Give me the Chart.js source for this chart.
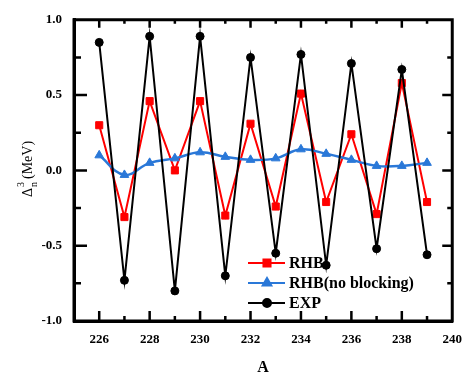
<!DOCTYPE html>
<html>
<head>
<meta charset="utf-8">
<script src="https://cdn.jsdelivr.net/npm/chart.js@4.4.1/dist/chart.umd.min.js"></script>
<style>
  html, body { margin: 0; padding: 0; background: #fff; }
  #wrap { width: 473px; height: 377px; }
</style>
</head>
<body>
<div id="wrap"><canvas id="gapChart" width="473" height="377"></canvas></div>
<script>
// mass number A
const massNumbers = [226, 227, 228, 229, 230, 231, 232, 233, 234, 235, 236, 237, 238, 239];
// three-point odd-even mass staggering, MeV
const rhbValues = [0.30, -0.31, 0.46, 0.00, 0.46, -0.30, 0.31, -0.24, 0.51, -0.21, 0.24, -0.29, 0.58, -0.21];
const rhbNoBlockingValues = [0.10, -0.03, 0.05, 0.08, 0.12, 0.09, 0.07, 0.08, 0.14, 0.11, 0.07, 0.03, 0.03, 0.05];
const expValues = [0.85, -0.73, 0.89, -0.80, 0.89, -0.70, 0.75, -0.55, 0.77, -0.63, 0.71, -0.52, 0.67, -0.56];
const xTickValues = [226, 228, 230, 232, 234, 236, 238, 240];
const yTickValues = [-1.0, -0.5, 0.0, 0.5, 1.0];

const serif = "'Liberation Serif', 'Times New Roman', serif";
const redColor = "#ff0000";
const blueColor = "#2a78d8";

function toPoints(values) {
    return values.map((v, i) => ({ x: massNumbers[i], y: v }));
}

// box round the plot with inward ticks, all four sides
function drawFrame(chart) {
    const ctx = chart.ctx;
    const area = chart.chartArea;
    const xs = chart.scales.x;
    const ys = chart.scales.y;
    const left = area.left, right = area.right, top = area.top, bottom = area.bottom;
    ctx.save();
    ctx.strokeStyle = "#000";
    ctx.lineWidth = 3;
    ctx.beginPath();
    ctx.rect(left, top, right - left, bottom - top);
    ctx.stroke();

    ctx.lineWidth = 2.5;
    ctx.beginPath();
    xTickValues.forEach((v, i) => {
        const px = xs.getPixelForValue(v);
        if (px < right - 2) {
            ctx.moveTo(px, bottom); ctx.lineTo(px, bottom - 10);
            ctx.moveTo(px, top); ctx.lineTo(px, top + 8);
        }
        if (i < xTickValues.length - 1) {
            const pm = xs.getPixelForValue((v + xTickValues[i + 1]) / 2);
            ctx.moveTo(pm, bottom); ctx.lineTo(pm, bottom - 5);
            ctx.moveTo(pm, top); ctx.lineTo(pm, top + 4);
        }
    });
    yTickValues.forEach((v, i) => {
        const py = ys.getPixelForValue(v);
        if (py > top + 2 && py < bottom - 2) {
            ctx.moveTo(left, py); ctx.lineTo(left + 13, py);
            ctx.moveTo(right, py); ctx.lineTo(right - 10, py);
        }
        if (i < yTickValues.length - 1) {
            const pm = ys.getPixelForValue((v + yTickValues[i + 1]) / 2);
            ctx.moveTo(left, pm); ctx.lineTo(left + 7, pm);
            ctx.moveTo(right, pm); ctx.lineTo(right - 5, pm);
        }
    });
    ctx.stroke();
    ctx.restore();
}

function drawLegend(chart) {
    const ctx = chart.ctx;
    ctx.save();
    chart.data.datasets.forEach((ds, i) => {
        const y = 263 + i * 20;
        ctx.strokeStyle = ds.borderColor;
        ctx.lineWidth = 2;
        ctx.beginPath();
        ctx.moveTo(248, y); ctx.lineTo(285, y);
        ctx.stroke();
        ctx.fillStyle = ds.backgroundColor;
        Chart.helpers.drawPoint(ctx, {
            pointStyle: ds.pointStyle,
            radius: ds.pointRadius,
            borderWidth: 1,
            rotation: 0
        }, 267, y);
        ctx.fillStyle = "#000";
        ctx.font = "bold 16px " + serif;
        ctx.textBaseline = "middle";
        ctx.fillText(ds.label, 289, y + 1);
    });
    ctx.restore();
}

// y axis title: Delta^3_n (MeV), rotated
function drawYTitle(chart) {
    const ctx = chart.ctx;
    ctx.save();
    ctx.translate(32, 197);
    ctx.rotate(-Math.PI / 2);
    ctx.fillStyle = "#000";
    ctx.textBaseline = "alphabetic";
    ctx.font = "14px " + serif;
    ctx.fillText("Δ", 0, 0);
    const w = ctx.measureText("Δ").width;
    ctx.font = "10px " + serif;
    ctx.fillText("3", w + 1, -8);
    ctx.fillText("n", w + 1, 5);
    ctx.font = "14px " + serif;
    ctx.fillText("(MeV)", w + 9, 0);
    ctx.restore();
}

const extrasPlugin = {
    id: "plotExtras",
    afterDraw(chart) {
        drawFrame(chart);
        drawLegend(chart);
        drawYTitle(chart);
    }
};

const chartCtx = document.getElementById("gapChart").getContext("2d");
const chartObject = new Chart(chartCtx, {
    type: "line",
    data: {
        datasets: [
            {
                label: "RHB",
                data: toPoints(rhbValues),
                borderColor: redColor,
                backgroundColor: redColor,
                borderWidth: 2,
                pointStyle: "rect",
                pointRadius: 5,
                pointBorderWidth: 1,
                tension: 0,
                order: 2
            },
            {
                label: "RHB(no blocking)",
                data: toPoints(rhbNoBlockingValues),
                borderColor: blueColor,
                backgroundColor: blueColor,
                borderWidth: 2.5,
                pointStyle: "triangle",
                pointRadius: 5,
                pointBorderWidth: 1,
                tension: 0.4,
                order: 1
            },
            {
                label: "EXP",
                data: toPoints(expValues),
                borderColor: "#000",
                backgroundColor: "#000",
                borderWidth: 2,
                pointStyle: "circle",
                pointRadius: 4,
                pointBorderWidth: 1,
                tension: 0,
                order: 0
            }
        ]
    },
    options: {
        responsive: false,
        animation: false,
        layout: { padding: { left: 0, right: 3, top: 2, bottom: 0 } },
        plugins: {
            legend: { display: false },
            tooltip: { enabled: false }
        },
        scales: {
            x: {
                type: "linear",
                min: 225,
                max: 240,
                afterBuildTicks: (scale) => { scale.ticks = xTickValues.map(v => ({ value: v })); },
                afterFit: (scale) => { scale.height = 56; },
                grid: { display: false, drawTicks: false },
                border: { display: true, width: 3, color: "#000" },
                ticks: {
                    padding: 11,
                    color: "#000",
                    maxRotation: 0,
                    font: { family: serif, size: 13, weight: "bold" }
                },
                title: {
                    display: true,
                    text: "A",
                    color: "#000",
                    padding: { top: 1, bottom: 0 },
                    font: { family: serif, size: 16, weight: "bold" }
                }
            },
            y: {
                min: -1,
                max: 1,
                afterBuildTicks: (scale) => { scale.ticks = yTickValues.map(v => ({ value: v })); },
                afterFit: (scale) => { scale.width = 74; },
                grid: { display: false, drawTicks: false },
                border: { display: true, width: 3, color: "#000" },
                ticks: {
                    padding: 12,
                    color: "#000",
                    callback: (v) => v.toFixed(1),
                    font: { family: serif, size: 13, weight: "bold" }
                }
            }
        }
    },
    plugins: [extrasPlugin]
});
</script>
</body>
</html>
